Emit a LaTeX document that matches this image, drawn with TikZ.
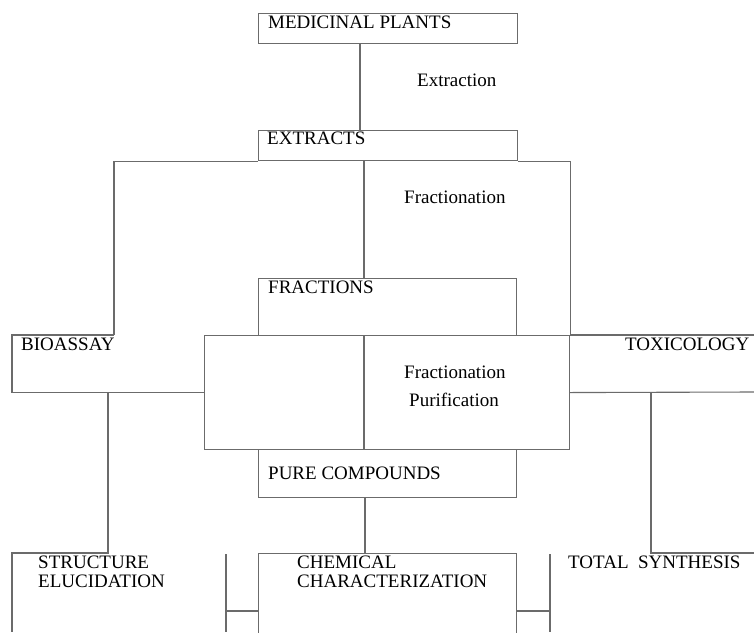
\documentclass[tikz,border=0pt]{standalone}
\usepackage{fontspec}
\setmainfont{Liberation Serif}
\begin{document}
\begin{tikzpicture}[x=1pt,y=-1pt,
  ln/.style={draw=black!58,line width=1.1pt},
  box/.style={ln,rectangle,inner sep=0pt,anchor=north west},
  lbl/.style={anchor=base west,inner sep=0pt,font=\fontsize{19}{19}\selectfont}]
\useasboundingbox (0,0) rectangle (754,632);
\clip (0,0) rectangle (754,632);
% boxes
\node[box,minimum width=259pt,minimum height=30pt] (mp) at (258,13) {};
\node[box,minimum width=259pt,minimum height=30pt] (ext) at (258,130) {};
\node[box,minimum width=258pt,minimum height=57pt] (frac) at (258,278) {};
\node[box,minimum width=365pt,minimum height=114pt] (cen) at (204,335) {};
\node[box,minimum width=258pt,minimum height=48pt] (pure) at (258,449) {};
\node[box,minimum width=258pt,minimum height=110pt] (chem) at (258,553) {};
% coordinates
\coordinate (bioTR) at (114,335);
\coordinate (bioTL) at (12,335);
\coordinate (toxT) at (754,335);
\coordinate (toxB) at (754,392);
\coordinate (bioDown) at (108,392);
\coordinate (seTR) at (108,553);
\coordinate (seTL) at (12,553);
\coordinate (seBL) at (12,632);
\coordinate (toxDown) at (651,392);
\coordinate (tsTL) at (651,553);
\coordinate (tsTR) at (754,553);
\coordinate (lbT) at (226,554);
\coordinate (lbB) at (226,632);
\coordinate (lbM) at (226,611);
\coordinate (rbT) at (550,554);
\coordinate (rbB) at (550,632);
\coordinate (rbM) at (550,611);
% connectors
\draw[ln] ([xshift=102pt]mp.south west) -- ([xshift=102pt]ext.north west);
\draw[ln] (bioTR) |- (ext.south west);
\draw[ln] (ext.south east) -| (cen.north east);
\draw[ln] ([xshift=106pt]ext.south west) -- ([xshift=106pt]frac.north west);
\draw[ln] ([xshift=160pt]cen.north west) -- ([xshift=160pt]cen.south west);
\draw[ln] (bioTR) -- (bioTL) |- (cen.west);
\draw[ln] (cen.north east) -- (toxT);
\draw[ln] (cen.east) -- (toxB);
\draw[ln] (bioDown) -- (seTR) -- (seTL) -- (seBL);
\draw[ln] (toxDown) -- (tsTL) -- (tsTR);
\draw[ln] ([xshift=107pt]pure.south west) -- ([xshift=107pt]chem.north west);
\draw[ln] (lbT) -- (lbB);
\draw[ln] (lbM) -- (lbM -| chem.west);
\draw[ln] (rbT) -- (rbB);
\draw[ln] (rbM) -- (rbM -| chem.east);
% labels
\node[lbl] (tmp) at (268,28) {MEDICINAL PLANTS};
\node[lbl] (textr) at (417,86) {Extraction};
\node[lbl] (text) at (267,144) {EXTRACTS};
\node[lbl] (tfr1) at (404,203) {Fractionation};
\node[lbl] (tfrac) at (268,293) {FRACTIONS};
\node[lbl] (tbio) at (21,350) {BIOASSAY};
\node[lbl] (ttox) at (625,350) {TOXICOLOGY};
\node[lbl] (tfr2) at (404,378) {Fractionation};
\node[lbl] (tpur) at (409,406) {Purification};
\node[lbl] (tpc) at (268,479) {PURE COMPOUNDS};
\node[lbl] (tse1) at (38,568) {STRUCTURE};
\node[lbl] (tse2) at (38,587) {ELUCIDATION};
\node[lbl] (tcc1) at (297,568) {CHEMICAL};
\node[lbl] (tcc2) at (297,587) {CHARACTERIZATION};
\node[lbl] (tts) at (568,568) {TOTAL\hspace{0.5em}SYNTHESIS};
\end{tikzpicture}
\end{document}
